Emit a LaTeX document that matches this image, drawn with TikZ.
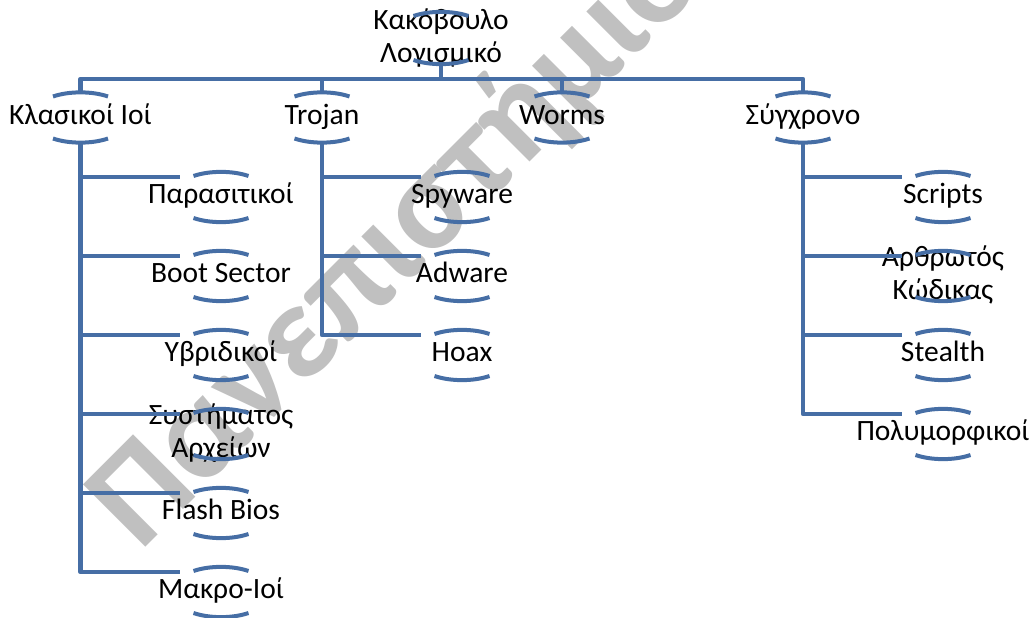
\documentclass[tikz,border=0pt]{standalone}
\usepackage{fontspec}
\setmainfont{Carlito}
\usetikzlibrary{calc}
\definecolor{tree}{RGB}{70,110,165}
\definecolor{mark}{RGB}{192,192,192}
% brackets above and below a label
\newcommand\brk[1]{%
  \draw[brace] ($(#1.center)+(-27.5,21)$) .. controls +(16,5.5) and +(-16,5.5) .. ($(#1.center)+(27.5,21)$);
  \draw[brace] ($(#1.center)+(-27.5,-21)$) .. controls +(16,-5.5) and +(-16,-5.5) .. ($(#1.center)+(27.5,-21)$);}
\begin{document}
\begin{tikzpicture}[x=1bp,y=1bp,
  every node/.style={inner sep=0pt,outer sep=0pt},
  lbl/.style={align=center,text=black,font=\fontsize{29.5bp}{33bp}\selectfont},
  wire/.style={draw=tree,line width=4.5bp,line join=round},
  brace/.style={draw=tree,line width=4bp},
]
\useasboundingbox (0,0) rectangle (1034,-618);
\clip (0,0) rectangle (1034,-618);

% watermark
\node[rotate=45,anchor=base west,text=mark,font=\bfseries\fontsize{136bp}{136bp}\selectfont] (wm) at (140,-552) {Πανεπιστήμιο};

% root and first level
\node[lbl] (root) at (441,-39) {\strut Κακόβουλο\\\strut Λογισμικό};
\node[lbl] (k) at (80.5,-117.5) {\strut Κλασικοί Ιοί};
\node[lbl] (t) at (322,-117.5) {\strut Trojan};
\node[lbl] (w) at (562,-117.5) {\strut Worms};
\node[lbl] (s) at (803,-117.5) {\strut Σύγχρονο};

% second level
\node[lbl] (k1) at (221,-197) {\strut Παρασιτικοί};
\node[lbl] (k2) at (221,-276) {\strut Boot Sector};
\node[lbl] (k3) at (221,-355) {\strut Υβριδικοί};
\node[lbl] (k4) at (221,-434) {\strut Συστήματος\\\strut Αρχείων};
\node[lbl] (k5) at (221,-513) {\strut Flash Bios};
\node[lbl] (k6) at (221,-592) {\strut Μακρο-Ιοί};

\node[lbl] (t1) at (462,-197) {\strut Spyware};
\node[lbl] (t2) at (462,-276) {\strut Adware};
\node[lbl] (t3) at (462,-355) {\strut Hoax};

\node[lbl] (s1) at (943,-197) {\strut Scripts};
\node[lbl] (s2) at (943,-276) {\strut Αρθρωτός\\\strut Κώδικας};
\node[lbl] (s3) at (943,-355) {\strut Stealth};
\node[lbl] (s4) at (943,-434) {\strut Πολυμορφικοί};

% brackets
\foreach \n in {k,t,w,s,k1,k2,k3,k4,k5,k6,t1,t2,t3,s1,s2,s3,s4} {\brk{\n}}
\draw[brace] ($(root.center)+(-27.5,23)$) .. controls +(16,5.5) and +(-16,5.5) .. ($(root.center)+(27.5,23)$);
\draw[brace] ($(root.center)+(-27.5,-21)$) .. controls +(16,-5.5) and +(-16,-5.5) .. ($(root.center)+(27.5,-21)$);

% bus and stubs
\draw[wire] ($(k.center)+(0,25.5)$) -- ++(0,13) -| ($(s.center)+(0,25.5)$);
\draw[wire] ($(root.center)+(0,-25)$) -- ++(0,-15);
\draw[wire] ($(t.center)+(0,25.5)$) -- ++(0,13);
\draw[wire] ($(w.center)+(0,25.5)$) -- ++(0,13);

% branches
\foreach \c in {k1,k2,k3,k4,k5,k6} \draw[wire] ($(k.center)+(0,-25.5)$) |- ($(\c.center)+(-41,20)$);
\foreach \c in {t1,t2,t3} \draw[wire] ($(t.center)+(0,-25.5)$) |- ($(\c.center)+(-41.5,20)$);
\foreach \c in {s1,s2,s3,s4} \draw[wire] ($(s.center)+(0,-25.5)$) |- ($(\c.center)+(-41.5,20)$);
\end{tikzpicture}
\end{document}
